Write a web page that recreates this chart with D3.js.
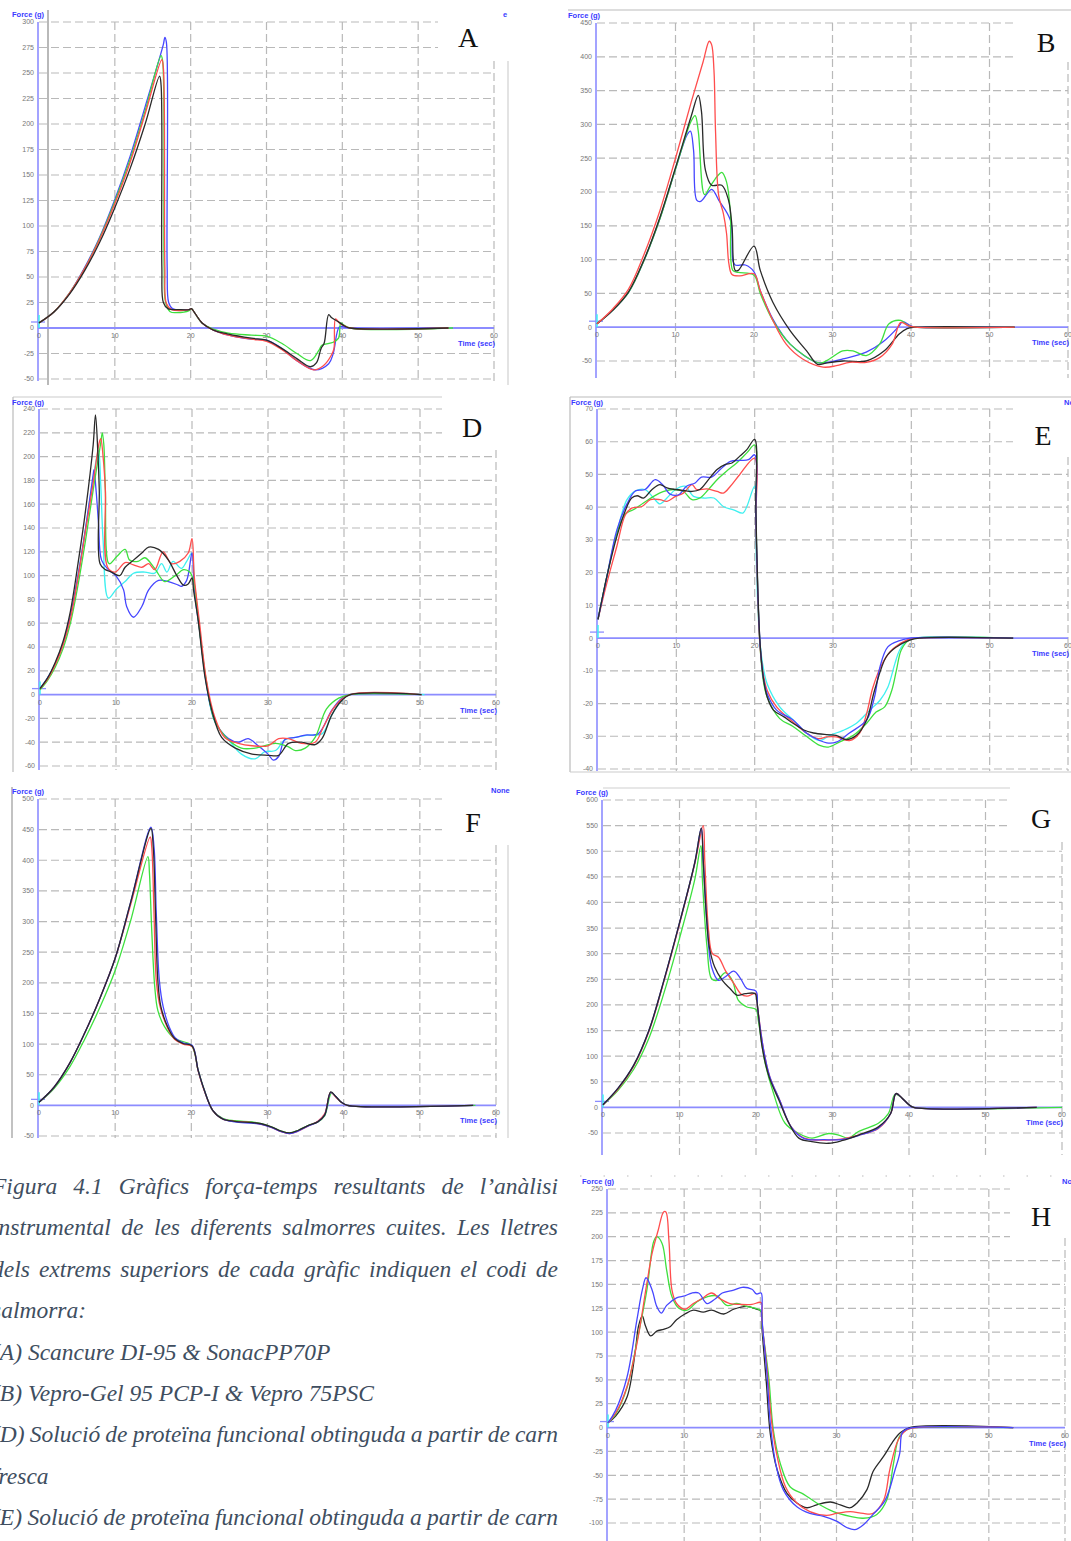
<!DOCTYPE html>
<html lang="en">
<head>
<meta charset="utf-8">
<title>Gràfics força-temps</title>
<script src="https://cdn.jsdelivr.net/npm/d3@7"></script>
<style>
  body { margin: 0; background: #fff; }
  svg { display: block; }
  .tick { font-family: "Liberation Sans", Arial, sans-serif; font-size: 7px; fill: #777; }
  .blue-lbl { font-family: "Liberation Sans", Arial, sans-serif; font-size: 7.5px; font-weight: bold; fill: #3a3aff; }
  .letter { font-family: "Liberation Serif", "Times New Roman", serif; font-size: 28px; fill: #111; }
  .caption { font-family: "Liberation Serif", "Times New Roman", serif; font-style: italic; font-size: 23.5px; fill: #404e60; }
</style>
</head>
<body>
<svg id="fig" width="1071" height="1541"></svg>
<script>
// ---- data: [time (s), force (g)] ----
const xTicks = [0, 10, 20, 30, 40, 50, 60];

const aTicks = [-50, -25, 0, 25, 50, 75, 100, 125, 150, 175, 200, 225, 250, 275, 300];
const aBlack = [[0,5],[2,16],[4,33],[6,56],[8,84],[10,118],[12,156],[14,200],[15.9,247],[16.1,238],[16.2,60],[16.4,25],[17,19],[18.5,18],[19.8,18],[20.1,19],[20.6,14],[21.5,5],[23,-2],[25,-6],[28,-10],[30,-12],[32,-20],[34,-30],[35.8,-38],[36.6,-34],[37.2,-20],[37.6,-15],[38.2,13],[38.6,10],[39.5,6],[40.3,2],[41,0],[54,0]];
const aRed = [[0,5],[2,16],[4,34],[6,58],[8,87],[10,122],[12,162],[14,210],[16.2,263],[16.4,255],[16.6,60],[16.8,24],[17.5,18],[19.8,18],[20.1,19],[20.6,14],[21.5,5],[23,-2],[25,-7],[28,-11],[30,-13],[32,-21],[34,-32],[36.2,-41],[37.5,-37],[38.6,-26],[38.9,-20],[39.1,9],[39.6,5],[40.3,2],[41,0],[54,0]];
const aGreen = [[0,5],[2,16],[4,34],[6,58],[8,88],[10,124],[12,165],[14,213],[16.1,267],[16.3,262],[16.5,60],[16.7,25],[17.3,16],[18,15],[19.8,17],[20.1,19],[20.6,14],[21.5,5],[23,-1],[25,-5],[28,-7],[30,-8],[32,-15],[34,-25],[35.8,-32],[36.9,-22],[37.3,-17],[38.8,-14],[39.5,-10],[39.8,5],[40.2,3],[41,0],[54.6,0]];
const aBlue = [[0,5],[2,16],[4,34],[6,59],[8,89],[10,126],[12,168],[14,217],[16.4,278],[16.6,285],[16.8,280],[16.9,60],[17.1,25],[17.6,19],[19.8,18],[20.1,19],[20.6,14],[21.5,5],[23,-2],[25,-7],[28,-11],[30,-12],[32,-20],[34,-32],[36.4,-41],[38.2,-35],[38.8,-25],[39.6,1],[40.3,1],[41,0],[54,0]];

const bTicks = [-50, 0, 50, 100, 150, 200, 250, 300, 350, 400, 450];
const bRed = [[0,5],[2,27],[4,56],[6,108],[8,172],[10,250],[12,333],[13.5,392],[14.3,423],[14.6,418],[14.9,380],[15.1,290],[15.5,195],[16.1,168],[16.5,139],[16.8,94],[17.2,78],[18.2,76],[20,79],[20.8,54],[22.4,10],[24.1,-25],[26.2,-47],[28.8,-59],[30.5,-57],[32.2,-52],[34.3,-52],[36,-45],[37.6,-25],[38.7,7],[39.7,2],[40.6,0],[53.2,0]];
const bBlack = [[0,5],[2,25],[4,52],[6,100],[8,162],[10,236],[12,312],[12.9,343],[13.3,320],[13.8,233],[14.6,210],[15.9,210],[16.75,188],[17.2,149],[17.6,84],[18,84],[20,120],[20.8,84],[22.4,37],[24.6,-5],[26.7,-35],[28.1,-55],[29.2,-53],[31.3,-50],[34.3,-50],[36.6,-35],[38.5,-10],[39.5,-2],[40.4,0],[53.2,0]];
const bGreen = [[0,5],[2,25],[4,51],[6,99],[8,160],[10,234],[12,305],[12.5,313],[12.9,290],[13.7,196],[14.4,208],[15.3,223],[15.9,229],[16.5,215],[17,168],[17.3,84],[18,81],[20,77],[20.8,50],[22.4,10],[24.6,-25],[28.4,-53],[29.6,-47],[31.3,-35],[32.6,-35],[34.3,-42],[36,-25],[37.2,5],[38.7,10],[39.7,2],[40.6,0],[53.2,0]];
const bBlue = [[0,5],[2,25],[4,51],[6,99],[8,160],[10,234],[11.5,285],[11.9,290],[12.3,262],[12.7,188],[13.2,186],[14.6,204],[15.5,188],[17,158],[17.3,99],[17.6,92],[18.9,92],[20,82],[20.8,54],[22.4,12],[24.6,-25],[28,-52],[29.2,-52],[31.3,-47],[34.3,-37],[36.4,-22],[38.5,2],[38.9,8],[40,2],[40.6,0],[53.2,0]];

const dTicks = [-60, -40, -20, 0, 20, 40, 60, 80, 100, 120, 140, 160, 180, 200, 220, 240];
const dBlack = [[0,5],[1,14],[2,27],[3,44],[4,70],[5,110],[6,155],[7,210],[7.3,235],[7.6,205],[7.8,172],[7.9,110],[8.6,105],[9.4,103],[10.5,100],[11.2,107],[12.3,113],[13.4,119],[14.3,124],[15.6,122],[16.9,113],[18,100],[18.9,92],[19.5,93],[20,98],[20.2,88],[20.8,63],[21.7,15],[22.6,-13],[23.9,-36],[25.7,-45],[27.9,-50],[30,-51],[31.4,-51],[32.7,-41],[34.4,-40],[36.2,-42],[37.1,-37],[38.4,-17],[39.7,-5],[40.8,0],[50.2,0]];
const dRed = [[0,5],[1,13],[2,25],[3,41],[4,64],[5,98],[6,138],[7,178],[7.8,212],[8,215],[8.3,200],[8.6,172],[8.9,107],[9.9,103],[11.2,111],[12.3,109],[13.4,107],[14.3,110],[15.1,105],[16.2,120],[17.3,110],[18.4,112],[19.5,119],[20,131],[20.3,99],[21,60],[21.9,12],[23,-19],[24.3,-36],[26.1,-41],[27.9,-43],[30,-43],[31.4,-37],[32.7,-37],[34.4,-41],[36.2,-40],[37.3,-27],[38.8,-10],[40.8,0],[50.2,0]];
const dGreen = [[0,4],[1,12],[2,23],[3,38],[4,60],[5,92],[6,130],[7,172],[8,212],[8.2,220],[8.4,210],[8.6,172],[9.1,110],[10.1,116],[11.2,122],[11.8,113],[12.9,112],[13.8,115],[15.1,106],[16.4,95],[17.8,100],[18.9,105],[19.7,103],[20.2,96],[20.8,65],[21.8,15],[23,-22],[24.8,-38],[26.5,-45],[28.3,-45],[31,-41],[32.7,-44],[33.6,-47],[34.9,-45],[36.2,-36],[37.7,-12],[39.3,-3],[40.8,0],[50.2,0]];
const dBlue = [[0,5],[1,14],[2,26],[3,42],[4,66],[5,100],[6,140],[7,185],[7.1,189],[7.4,170],[7.7,144],[8.1,113],[9,105],[10.1,99],[11,88],[11.4,74],[12.3,65],[13.4,74],[14.3,88],[15.6,96],[16.9,95],[18.2,92],[18.6,91],[19.3,96],[20,119],[20.3,88],[21,54],[21.9,9],[23,-22],[24.8,-37],[26.1,-40],[27.4,-37],[28.7,-43],[30,-50],[30.7,-55],[31.4,-52],[32.2,-38],[33.6,-36],[34.9,-34],[36.6,-33],[38.4,-13],[39.7,-3],[40.8,0],[50.2,0]];
const dCyan = [[0,5],[1,14],[2,26],[3,42],[4,66],[5,100],[6,140],[7,182],[7.7,205],[8,175],[8.3,130],[9,81],[10.1,89],[11.2,95],[12.3,102],[13.8,103],[15.1,102],[16,110],[16.7,103],[17.5,112],[18.6,106],[19.3,112],[20,119],[20.3,91],[21,55],[21.9,9],[23,-23],[24.8,-38],[26.5,-50],[28.3,-54],[29.6,-48],[31,-47],[32.2,-38],[33.6,-36],[35.3,-34],[37.1,-33],[38.4,-17],[39.7,-5],[40.8,0],[50.6,0]];

const eTicks = [-40, -30, -20, -10, 0, 10, 20, 30, 40, 50, 60, 70];
const eBlack = [[0,5.7],[1.15,19],[2.4,31],[3.5,39],[4.3,42.8],[5,43.5],[5.8,42.8],[6.9,45.4],[7.9,46.9],[8.8,45.9],[9.9,45.4],[10.9,45.1],[12,44.8],[13,45.4],[14.1,48.4],[15.2,51.5],[16.2,53],[17.1,53.5],[18.1,55.6],[19,57.6],[20,60.7],[20.15,40],[20.4,15],[20.7,-2],[21.1,-12],[21.6,-18],[22.4,-22],[23.7,-24],[24.9,-26],[26.2,-28],[27.5,-29],[29.2,-29.5],[30.4,-29.7],[31.7,-31],[33,-29.7],[34.3,-25],[35.3,-16],[36.8,-5.7],[38.1,-2.7],[39.8,-0.6],[41,0],[53,0]];
const eBlue = [[0,5.7],[1.15,19],[2.4,33],[3.7,41],[4.8,45],[6,45.4],[7.3,48.4],[8.2,47],[9.2,44],[10.3,43.8],[11.3,46.4],[12.4,47.4],[13.2,49.2],[14.5,49.2],[15.6,51.5],[16.9,54],[18.1,54.3],[19.2,54.5],[20,56],[20.15,38],[20.4,14],[20.7,-2],[21.1,-12],[21.6,-17],[22.8,-22],[24.9,-25],[26.6,-29],[28.3,-31.3],[29.2,-32],[30.4,-31.8],[32.1,-29],[34.3,-25],[35.3,-18],[36,-8.8],[37,-2.7],[38.5,-0.8],[39.8,0],[53,0]];
const eRed = [[0,5.7],[1.15,17],[2.4,28],[3.5,37.7],[4.3,39.7],[5.6,40.2],[6.7,42.3],[7.9,42.3],[8.8,41.8],[9.9,43.3],[10.9,44.3],[12,46.9],[12.6,45.4],[13.9,45.6],[15.2,44.8],[16,44.3],[16.9,46.4],[18.1,50],[20,55],[20.15,36],[20.4,13],[20.7,-3],[21.1,-11],[21.6,-16],[22.8,-21],[24.9,-25.6],[26.6,-29],[28.1,-30.7],[29.2,-30.2],[30.4,-30.2],[32.1,-31.3],[33.4,-29],[34.3,-23],[35.1,-15],[36.4,-7.3],[37.7,-3.2],[39.4,-0.6],[40.6,0],[53,0]];
const eGreen = [[0,5.7],[1.15,19],[2.4,32],[3.5,38],[4.5,39.2],[5.8,41.3],[7.1,43.3],[8.4,44.8],[9.6,45.4],[10.9,44.8],[12,42.3],[13,42.8],[14.1,45.4],[15.2,48.4],[16.4,51],[17.7,53.5],[19,56.6],[20,59],[20.15,39],[20.4,14],[20.7,-3],[21.1,-13],[21.6,-18],[23.2,-24.6],[24.9,-27],[26.6,-30],[28.3,-32.8],[29.4,-33.3],[30.8,-31.8],[32.6,-29.7],[34.3,-26],[35.5,-22.6],[36.6,-21],[37.5,-16],[38.1,-9.8],[38.7,-3.7],[39.6,-0.8],[40.6,0],[53,0]];
const eCyan = [[0,5.7],[1.15,19],[2.4,32],[3.7,42.3],[4.8,45],[6,45.4],[7.1,42.8],[7.9,41],[8.8,42.8],[9.9,45.4],[11.1,46.4],[12.2,43.3],[13.5,42.8],[14.8,42.8],[16,40.2],[17.3,39.2],[18.5,38.2],[19,40.2],[20,46.4],[20.15,30],[20.4,10],[20.7,-2],[21.1,-9],[21.6,-14],[23.2,-21],[24.9,-25],[26.6,-29],[28.3,-31.3],[29.6,-29.7],[31.3,-28.2],[33,-26],[34.7,-22],[36,-19],[37,-15],[37.9,-7.8],[38.5,-3.7],[39.4,-0.8],[40.3,0],[53,0]];

const fTicks = [-50, 0, 50, 100, 150, 200, 250, 300, 350, 400, 450, 500];
const fBlack = [[0,5],[2,30],[4,68],[6,118],[8,175],[10,240],[12,330],[14.7,452],[15,422],[15.3,313],[15.6,204],[16,161],[16.9,128],[17.8,109],[18.9,101],[20.1,97],[20.9,57],[21.7,25],[22.8,-8],[24.1,-22],[25.7,-26],[27.9,-28],[29.2,-30],[30.5,-35],[31.8,-42],[32.9,-45],[34,-41],[35.3,-33],[36.6,-27],[37.5,-16],[38.3,22],[39,14],[39.7,5],[40.5,0],[57,0]];
const fRed = [[0,5],[2,30],[4,68],[6,118],[8,175],[10,240],[12,326],[14.6,438],[14.8,422],[15.1,313],[15.4,204],[15.9,161],[16.9,126],[17.8,108],[18.9,100],[20.1,96],[20.9,56],[21.7,24],[22.8,-8],[24.1,-22],[25.7,-26],[27.9,-28],[29.2,-31],[30.5,-36],[31.8,-43],[32.9,-46],[34,-42],[35.3,-34],[36.6,-26],[37.5,-14],[38.3,21],[39,13],[39.7,5],[40.5,0],[57,0]];
const fGreen = [[0,5],[2,28],[4,62],[6,108],[8,160],[10,220],[12,300],[14.3,406],[14.5,379],[14.8,286],[15.2,193],[15.6,155],[16.5,128],[17.8,109],[20,98],[20.9,57],[21.7,25],[22.8,-8],[24.1,-21],[25.7,-25],[27.9,-27],[29.2,-30],[30.5,-35],[31.8,-42],[32.9,-45],[34,-41],[35.3,-33],[36.6,-27],[37.5,-17],[38.4,20],[39,14],[39.7,5],[40.5,0],[57.3,0]];
const fBlue = [[0,5],[2,30],[4,68],[6,118],[8,175],[10,240],[12,330],[14.7,454],[15.1,422],[15.4,313],[15.8,204],[16.3,161],[17.1,128],[17.9,110],[18.9,102],[20.1,98],[20.9,57],[21.7,25],[22.8,-8],[24.1,-22],[25.7,-27],[27.9,-29],[29.2,-31],[30.5,-36],[31.8,-43],[32.9,-46],[34,-42],[35.3,-34],[36.6,-27],[37.5,-16],[38.3,21],[39,14],[39.7,5],[40.5,0],[57,0]];

const gTicks = [-50, 0, 50, 100, 150, 200, 250, 300, 350, 400, 450, 500, 550, 600];
const gBlack = [[0,5],[2,38],[4,82],[6,150],[8,250],[10,360],[12,478],[12.85,545],[13.1,482],[13.5,378],[13.9,313],[14.6,274],[15.6,248],[16.6,232],[17.5,219],[18.6,222],[19.9,222],[20.1,209],[20.8,118],[21.7,60],[23,14],[24.3,-31],[25.6,-60],[27.3,-67],[29.5,-70],[31.2,-65],[33.4,-54],[36,-38],[37.6,-12],[38.3,27],[39.1,18],[40,5],[40.6,0],[56.7,0]];
const gRed = [[0,5],[2,36],[4,80],[6,148],[8,248],[10,358],[12,476],[13.1,550],[13.3,482],[13.8,345],[14.3,300],[15.1,293],[16,267],[17.1,242],[18,222],[18.8,217],[20,222],[20.2,196],[21,112],[21.8,60],[23.1,14],[24.6,-38],[26.3,-60],[28.9,-64],[31.1,-62],[33.4,-54],[36,-41],[37.6,-12],[38.3,27],[39.1,18],[40,5],[40.6,0],[56.7,0]];
const gBlue = [[0,5],[2,38],[4,82],[6,150],[8,250],[10,360],[12,478],[12.85,545],[13.1,482],[13.6,358],[14.2,274],[15.1,248],[16,255],[17.1,266],[18,251],[18.8,232],[20,227],[20.2,196],[21,112],[21.8,60],[23.1,14],[24.6,-38],[26.3,-61],[28.9,-63],[31.1,-63],[33.4,-55],[36,-40],[37.6,-12],[38.3,27],[39.1,18],[40,5],[40.6,0],[56.7,0]];
const gGreen = [[0,5],[2,34],[4,74],[6,135],[8,225],[10,330],[12,445],[12.8,511],[13,443],[13.6,313],[14.2,251],[14.9,248],[16,263],[16.9,248],[17.7,209],[18.8,196],[20,191],[20.3,170],[21.2,86],[22.3,27],[23.8,-31],[25.6,-51],[27.3,-60],[29.5,-51],[30.8,-54],[32.1,-60],[33.4,-47],[36,-31],[37.3,-12],[38.2,26],[39.1,18],[40,5],[40.6,0],[60,0]];

const hTicks = [-100, -75, -50, -25, 0, 25, 50, 75, 100, 125, 150, 175, 200, 225, 250];
const hRed = [[0,5],[1,15],[2.5,43],[3.8,88],[5.1,151],[5.8,183],[6.6,207],[7.3,226],[7.6,226],[8,196],[8.4,144],[9,130],[10.1,124],[11.2,130],[12.3,135],[13.6,141],[14.7,135],[16,130],[17.4,129],[18.9,129],[20.1,131],[20.2,113],[20.9,60],[21.5,5],[22.2,-30],[23.3,-62],[24.8,-79],[26.5,-88],[28.7,-92],[30,-90],[31.8,-88],[33.5,-90],[34.8,-90],[36.2,-76],[37,-44],[38.1,-13],[39.2,-2.4],[40.5,0],[53.2,0]];
const hGreen = [[0,5],[1,14],[2.5,42],[3.8,90],[5.1,144],[6,195],[6.4,200],[7.1,193],[7.7,165],[8.4,137],[9.3,125],[10.4,123],[11.7,132],[13,137],[14.3,138],[15.6,128],[16.9,130],[18.2,127],[20.1,122],[20.2,109],[21.1,53],[21.7,-2],[22.6,-37],[23.9,-62],[25.7,-70],[27.4,-79],[29.6,-88],[31.8,-93],[33.5,-95],[35.3,-91],[36.6,-76],[37.5,-37],[38.3,-9],[39.7,-0.7],[40.5,0],[53.2,0]];
const hBlue = [[0,5],[1,18],[2.5,53],[3.8,113],[4.5,144],[5,157],[5.8,144],[6.4,127],[7,120],[7.7,128],[9,136],[10.1,138],[11,141],[11.9,141],[13,130],[14.1,135],[15,141],[16.5,144],[17.6,147],[18.9,145],[19.5,140],[20.1,141],[20.2,116],[20.9,53],[21.3,5],[22,-37],[23,-65],[24.8,-83],[26.5,-90],[28.3,-93],[30,-98],[31.4,-105],[32.4,-107],[33.5,-102],[34.8,-91],[36.4,-76],[37.7,-44],[38.3,-27],[38.6,-6],[39.2,-1.7],[40,0],[53.2,0]];
const hBlack = [[0,5],[1,12],[2.5,32],[3.6,81],[4,106],[4.5,117],[4.9,107],[5.6,96],[6.4,101],[7.3,103],[8.2,106],[9,113],[10.1,119],[11.2,123],[12.5,121],[13.6,123],[15.2,119],[16.5,124],[18.2,127],[19.5,124],[20.1,122],[20.2,106],[20.8,46],[21.3,-6],[22.2,-44],[23.5,-69],[24.8,-79],[26.1,-84],[27.4,-81],[29.2,-78],[30.5,-81],[31.8,-84],[32.7,-79],[34,-65],[34.8,-46],[36.2,-30],[37.3,-16],[38.3,-6],[39.6,0],[53.2,0]];

const captionLines = [
  "Figura 4.1 Gràfics força-temps resultants de l’anàlisi",
  "instrumental de les diferents salmorres cuites. Les lletres",
  "dels extrems superiors de cada gràfic indiquen el codi de",
  "salmorra:",
  "(A) Scancure DI-95 & SonacPP70P",
  "(B) Vepro-Gel 95 PCP-I & Vepro 75PSC",
  "(D) Solució de proteïna funcional obtinguda a partir de carn",
  "fresca",
  "(E) Solució de proteïna funcional obtinguda a partir de carn"
];
const justifiedLines = [0, 1, 2, 6, 8];

// ---- styling / layout ----
const colors = { red: "#ff4d4d", green: "#3ee03e", blue: "#4646ff", black: "#2a2a2a", cyan: "#3ff0f0" };

const panels = [
  { letter: "A", ticks: aTicks, xr: [39, 494], yr: [379, 22], bottom: 381, boxLeft: 438, boxBottom: 61,
    letterPos: [468, 37], forcePos: [12, 17], corner: ["e", 503, 17],
    frame: [[48, 10, 48, 385, "#8a8a8a", null], [508, 61, 508, 385, "#d0d0d0", null]],
    series: [["cyan", []], ["blue", aBlue], ["green", aGreen], ["red", aRed], ["black", aBlack]] },
  { letter: "B", ticks: bTicks, xr: [597, 1068], yr: [361, 23], bottom: 378, boxLeft: 1015, boxBottom: 62,
    letterPos: [1046, 42], forcePos: [568, 18], corner: null,
    frame: [[568, 10, 1071, 10, "#bbbbbb", null]],
    series: [["blue", bBlue], ["green", bGreen], ["black", bBlack], ["red", bRed]] },
  { letter: "D", ticks: dTicks, xr: [40, 496], yr: [766, 409], bottom: 770, boxLeft: 442, boxBottom: 450,
    letterPos: [472, 427], forcePos: [12, 405], corner: null,
    frame: [[13, 397, 442, 397, "#cccccc", null], [13, 397, 13, 772, "#bbbbbb", null]],
    series: [["cyan", dCyan], ["blue", dBlue], ["green", dGreen], ["red", dRed], ["black", dBlack]] },
  { letter: "E", ticks: eTicks, xr: [598, 1068], yr: [769, 409], bottom: 771, boxLeft: 1013, boxBottom: 457,
    letterPos: [1043, 435], forcePos: [571, 405], corner: ["No", 1064, 405],
    frame: [[570, 397, 1071, 397, "#bbbbbb", null], [570, 397, 570, 772, "#bbbbbb", null], [570, 772, 1071, 772, "#cccccc", null]],
    series: [["cyan", eCyan], ["green", eGreen], ["red", eRed], ["blue", eBlue], ["black", eBlack]] },
  { letter: "F", ticks: fTicks, xr: [39, 496], yr: [1136, 799], bottom: 1138, boxLeft: 442, boxBottom: 845,
    letterPos: [473, 822], forcePos: [12, 794], corner: ["None", 491, 793],
    frame: [[12, 787, 12, 1138, "#999999", null], [508, 845, 508, 1138, "#d0d0d0", null]],
    series: [["green", fGreen], ["red", fRed], ["blue", fBlue], ["black", fBlack]] },
  { letter: "G", ticks: gTicks, xr: [603, 1062], yr: [1133, 800], bottom: 1155, boxLeft: 1008, boxBottom: 842,
    letterPos: [1041, 818], forcePos: [576, 795], corner: null,
    frame: [[603, 788, 1010, 788, "#d0d0d0", null]],
    series: [["green", gGreen], ["red", gRed], ["blue", gBlue], ["black", gBlack]] },
  { letter: "H", ticks: hTicks, xr: [608, 1065], yr: [1523, 1189], bottom: 1541, boxLeft: 1010, boxBottom: 1238,
    letterPos: [1041, 1216], forcePos: [582, 1184], corner: ["Nor", 1062, 1184],
    frame: [[580, 1176, 1071, 1176, "#bbbbbb", "1.5,22"]],
    series: [["black", hBlack], ["green", hGreen], ["red", hRed], ["blue", hBlue]] }
];

const svg = d3.select("#fig");

function drawPanel(p) {
  const yDomain = [p.ticks[0], p.ticks[p.ticks.length - 1]];
  const x = d3.scaleLinear().domain([0, 60]).range(p.xr);
  const y = d3.scaleLinear().domain(yDomain).range(p.yr);
  const g = svg.append("g").attr("class", "panel-" + p.letter);
  const yTop = y(yDomain[1]);

  p.frame.forEach(f => {
    g.append("line")
      .attr("x1", f[0]).attr("y1", f[1]).attr("x2", f[2]).attr("y2", f[3])
      .attr("stroke", f[4]).attr("stroke-width", 1.2)
      .attr("stroke-dasharray", f[5]);
  });

  // dashed grid
  p.ticks.filter(v => v !== 0).forEach(v => {
    const yy = y(v);
    g.append("line")
      .attr("x1", x(0)).attr("x2", yy < p.boxBottom ? p.boxLeft : x(60))
      .attr("y1", yy).attr("y2", yy)
      .attr("stroke", "#b9b9b9").attr("stroke-width", 1.2)
      .attr("stroke-dasharray", "8,4");
  });
  xTicks.filter(v => v > 0).forEach(v => {
    const xx = x(v);
    g.append("line")
      .attr("x1", xx).attr("x2", xx)
      .attr("y1", xx > p.boxLeft ? p.boxBottom : yTop).attr("y2", p.bottom)
      .attr("stroke", "#b9b9b9").attr("stroke-width", 1.2)
      .attr("stroke-dasharray", "8,4");
  });

  // blue axes
  g.append("line")
    .attr("x1", x(0) - 1).attr("x2", x(0) - 1).attr("y1", yTop).attr("y2", p.bottom)
    .attr("stroke", "#8c8cff").attr("stroke-width", 1.6);
  g.append("line")
    .attr("x1", x(0) - 1).attr("x2", x(60)).attr("y1", y(0)).attr("y2", y(0))
    .attr("stroke", "#8c8cff").attr("stroke-width", 1.8);

  // start marker
  g.append("line")
    .attr("x1", x(0) - 8).attr("x2", x(0) + 6).attr("y1", y(0) - 6).attr("y2", y(0) - 6)
    .attr("stroke", "#8c8cff").attr("stroke-width", 1.3);
  g.append("line")
    .attr("x1", x(0)).attr("x2", x(0)).attr("y1", y(0)).attr("y2", y(0) - 13)
    .attr("stroke", colors.cyan).attr("stroke-width", 1.5);

  // tick labels
  g.selectAll("text.ytl").data(p.ticks).enter().append("text")
    .attr("class", "tick ytl")
    .attr("x", x(0) - 5).attr("y", d => y(d))
    .attr("dy", "0.35em").attr("text-anchor", "end")
    .text(d => d);
  g.selectAll("text.xtl").data(xTicks).enter().append("text")
    .attr("class", "tick xtl")
    .attr("x", d => x(d)).attr("y", y(0) + 10)
    .attr("text-anchor", "middle")
    .text(d => d);

  g.append("text").attr("class", "blue-lbl")
    .attr("x", x(60) + 1).attr("y", y(0) + 18).attr("text-anchor", "end")
    .text("Time (sec)");
  g.append("text").attr("class", "blue-lbl")
    .attr("x", p.forcePos[0]).attr("y", p.forcePos[1])
    .text("Force (g)");
  if (p.corner) {
    g.append("text").attr("class", "blue-lbl")
      .attr("x", p.corner[1]).attr("y", p.corner[2]).text(p.corner[0]);
  }

  // curves
  const line = d3.line()
    .x(d => x(d[0])).y(d => y(d[1]))
    .curve(d3.curveCatmullRom.alpha(0.5));
  p.series.filter(s => s[1].length).forEach(s => {
    g.append("path")
      .attr("d", line(s[1]))
      .attr("fill", "none")
      .attr("stroke", colors[s[0]])
      .attr("stroke-width", 1.3)
      .attr("stroke-linejoin", "round");
  });

  g.append("text").attr("class", "letter")
    .attr("x", p.letterPos[0]).attr("y", p.letterPos[1])
    .attr("text-anchor", "middle").attr("dominant-baseline", "central")
    .text(p.letter);
}

panels.forEach(drawPanel);

// caption block (left column, bottom)
const capLeft = -8, capRight = 558, capTop = 1194, capStep = 41.4;
captionLines.forEach((txt, i) => {
  const t = svg.append("text").attr("class", "caption")
    .attr("x", capLeft).attr("y", capTop + i * capStep)
    .text(txt);
  if (justifiedLines.includes(i)) {
    const w = t.node().getComputedTextLength();
    const gaps = txt.split(" ").length - 1;
    t.style("word-spacing", ((capRight - capLeft - w) / gaps) + "px");
  }
});
</script>
</body>
</html>
